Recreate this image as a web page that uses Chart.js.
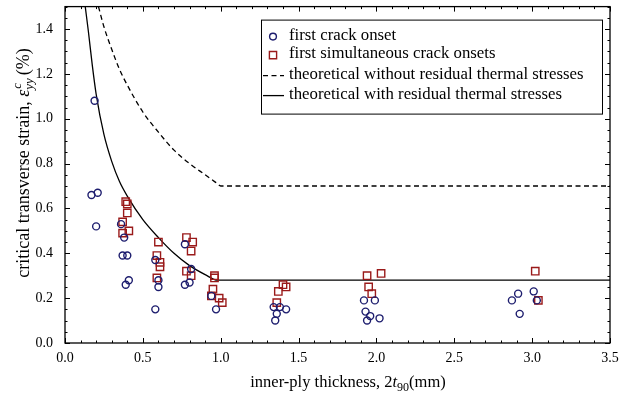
<!DOCTYPE html>
<html>
<head>
<meta charset="utf-8">
<script src="https://cdn.jsdelivr.net/npm/chart.js@4.4.1/dist/chart.umd.min.js"></script>
<style>
 html, body { margin: 0; padding: 0; background: #fff; }
 #wrap { width: 638px; height: 396px; }
</style>
</head>
<body>
<div id="wrap"><canvas id="strain-chart"></canvas></div>
<script>
// first crack onset (circles)
var onsetX = [0.17, 0.21, 0.19, 0.20,
 0.36, 0.38, 0.37, 0.40, 0.39, 0.41,
 0.58, 0.60, 0.60, 0.58,
 0.77, 0.81, 0.77, 0.80,
 0.94, 0.97,
 1.34, 1.38, 1.42, 1.36, 1.35,
 1.92, 1.99, 1.93, 1.94, 1.96, 2.02,
 2.91, 2.87, 2.92, 3.01, 3.03];
var onsetY = [0.66, 0.67, 1.08, 0.52,
 0.53, 0.47, 0.39, 0.39, 0.26, 0.28,
 0.37, 0.28, 0.25, 0.15,
 0.44, 0.33, 0.26, 0.27,
 0.21, 0.15,
 0.16, 0.16, 0.15, 0.13, 0.10,
 0.19, 0.19, 0.14, 0.10, 0.12, 0.11,
 0.22, 0.19, 0.13, 0.23, 0.19];

// first simultaneous crack onsets (squares)
var simulX = [0.39, 0.40, 0.40, 0.37, 0.37, 0.41,
 0.60, 0.59, 0.61, 0.61, 0.59,
 0.78, 0.82, 0.81, 0.78, 0.81,
 0.96, 0.96, 0.95, 0.94, 0.99, 1.01,
 1.40, 1.42, 1.37, 1.36,
 1.94, 2.03, 1.95, 1.97,
 3.02, 3.04];
var simulY = [0.63, 0.62, 0.58, 0.54, 0.49, 0.50,
 0.45, 0.39, 0.36, 0.34, 0.29,
 0.47, 0.45, 0.41, 0.32, 0.30,
 0.30, 0.29, 0.24, 0.21, 0.20, 0.18,
 0.26, 0.25, 0.23, 0.18,
 0.30, 0.31, 0.25, 0.22,
 0.32, 0.19];

// theoretical curves
var noThermalX = [0.215, 0.25, 0.30, 0.35, 0.40, 0.50, 0.60, 0.70, 0.80, 0.90, 0.97, 1.00, 3.50];
var noThermalY = [1.50, 1.41, 1.31, 1.22, 1.15, 1.03, 0.94, 0.86, 0.80, 0.75, 0.715, 0.70, 0.70];
var thermalX = [0.13, 0.15, 0.175, 0.20, 0.25, 0.30, 0.35, 0.40, 0.50, 0.60, 0.70, 0.80, 0.90, 0.98, 3.50];
var thermalY = [1.50, 1.39, 1.24, 1.11, 0.93, 0.81, 0.72, 0.655, 0.55, 0.47, 0.40, 0.345, 0.305, 0.28, 0.28];

var xTicks = [0.0, 0.5, 1.0, 1.5, 2.0, 2.5, 3.0, 3.5];
var yTicks = [0.0, 0.2, 0.4, 0.6, 0.8, 1.0, 1.2, 1.4];

var serif = "'Liberation Serif', 'DejaVu Serif', serif";
var navy = "#1d1d6e";
var darkRed = "#9a1a1a";

function toPoints(xs, ys) {
 return xs.map(function (x, i) {
  return { x: x, y: ys[i] };
 });
}

// frame with inward ticks on all four sides, drawn from the scales
var frameTicks = {
 id: "frameTicks",
 afterDatasetsDraw: function (chart) {
  var ctx = chart.ctx;
  var a = chart.chartArea;
  var sx = chart.scales.x;
  var sy = chart.scales.y;
  ctx.save();
  ctx.strokeStyle = "#000";
  ctx.lineWidth = 1;
  ctx.beginPath();
  var i, v, px, len;
  for (i = 0; i <= 35; i++) {
   v = i / 10;
   len = i % 5 === 0 ? 5 : 2.5;
   px = Math.round(sx.getPixelForValue(v)) + 0.5;
   ctx.moveTo(px, a.bottom);
   ctx.lineTo(px, a.bottom - len);
   ctx.moveTo(px, a.top);
   ctx.lineTo(px, a.top + len);
  }
  for (i = 0; i <= 30; i++) {
   v = i / 20;
   len = i % 4 === 0 ? 5 : 2.5;
   px = Math.round(sy.getPixelForValue(v)) + 0.5;
   ctx.moveTo(a.left, px);
   ctx.lineTo(a.left + len, px);
   ctx.moveTo(a.right, px);
   ctx.lineTo(a.right - len, px);
  }
  ctx.stroke();
  ctx.lineWidth = 1.3;
  ctx.strokeRect(a.left, a.top, a.right - a.left, a.bottom - a.top);
  ctx.restore();
 },
};

// legend box inside the plot, top right
var boxLegend = {
 id: "boxLegend",
 afterDraw: function (chart) {
  var ctx = chart.ctx;
  var a = chart.chartArea;
  var left = a.right - 349, top = a.top + 13, w = 341, h = 94;
  ctx.save();
  ctx.fillStyle = "#fff";
  ctx.fillRect(left, top, w, h);
  ctx.strokeStyle = "#000";
  ctx.lineWidth = 1;
  ctx.strokeRect(left + 0.5, top + 0.5, w, h);

  var mx = left + 12, tx = left + 28;
  var rows = [top + 17, top + 35.5, top + 56, top + 76];
  ctx.font = "16.8px " + serif;
  ctx.textBaseline = "middle";
  ctx.fillStyle = "#000";

  chart.data.datasets.forEach(function (ds, i) {
   var y = rows[i];
   ctx.beginPath();
   if (i === 0) {
    ctx.strokeStyle = navy;
    ctx.lineWidth = 1.4;
    ctx.arc(mx, y, 3.4, 0, Math.PI * 2);
    ctx.stroke();
   } else if (i === 1) {
    ctx.strokeStyle = darkRed;
    ctx.lineWidth = 1.4;
    ctx.rect(mx - 3.6, y - 3.6, 7.2, 7.2);
    ctx.stroke();
   } else {
    ctx.strokeStyle = "#000";
    ctx.lineWidth = 1.3;
    ctx.setLineDash(ds.borderDash || []);
    ctx.moveTo(mx - 10, y);
    ctx.lineTo(mx + 11, y);
    ctx.stroke();
    ctx.setLineDash([]);
   }
   ctx.fillText(ds.label, tx, y - 1);
  });
  ctx.restore();
 },
};

// axis titles with italic symbols and sub/superscripts
var axisTitles = {
 id: "axisTitles",
 afterDraw: function (chart) {
  var ctx = chart.ctx;
  var big = "16.5px " + serif;
  var ital = "italic 16.5px " + serif;
  var smallUp = "12px " + serif;
  ctx.save();
  ctx.fillStyle = "#000";
  ctx.textBaseline = "alphabetic";

  // x title: inner-ply thickness, 2t90(mm)
  var parts = [
   { t: "inner-ply thickness, 2", f: big, dy: 0 },
   { t: "t", f: ital, dy: 0 },
   { t: "90", f: smallUp, dy: 3.5 },
   { t: "(mm)", f: big, dy: 0 },
  ];
  var total = 0;
  parts.forEach(function (p) {
   ctx.font = p.f;
   p.w = ctx.measureText(p.t).width;
   total += p.w;
  });
  var x = 348 - total / 2;
  var base = 387;
  parts.forEach(function (p) {
   ctx.font = p.f;
   ctx.fillText(p.t, x, base + p.dy);
   x += p.w;
  });

  // y title, rotated: critical transverse strain, eps^c_yy (%)
  var yBig = "18px " + serif;
  var yItal = "italic 18px " + serif;
  var ySmall = "italic 13px " + serif;
  ctx.translate(29, 163);
  ctx.rotate(-Math.PI / 2);
  ctx.font = yBig;
  var t1 = "critical transverse strain, ";
  var w1 = ctx.measureText(t1).width;
  ctx.font = yItal;
  var we = ctx.measureText("\u03b5").width;
  ctx.font = ySmall;
  var wyy = ctx.measureText("yy").width;
  ctx.font = yBig;
  var w3 = ctx.measureText("(%)").width;
  var tot = w1 + we + wyy + 3 + w3;
  var sx = -tot / 2;
  ctx.font = yBig;
  ctx.fillText(t1, sx, 0);
  sx += w1;
  ctx.font = yItal;
  ctx.fillText("\u03b5", sx, 0);
  sx += we;
  ctx.font = ySmall;
  ctx.fillText("c", sx + 1, -8);
  ctx.fillText("yy", sx, 4);
  sx += wyy + 3;
  ctx.font = yBig;
  ctx.fillText("(%)", sx, 0);
  ctx.restore();
 },
};

var ctx = document.getElementById("strain-chart");

new Chart(ctx, {
 type: "scatter",
 data: {
  datasets: [
   {
    label: "first crack onset",
    data: toPoints(onsetX, onsetY),
    pointStyle: "circle",
    pointRadius: 3.5,
    pointBorderWidth: 1.4,
    borderColor: navy,
    backgroundColor: "rgba(0,0,0,0)",
    showLine: false,
   },
   {
    label: "first simultaneous crack onsets",
    data: toPoints(simulX, simulY),
    pointStyle: "rect",
    pointRadius: 5.2,
    pointBorderWidth: 1.4,
    borderColor: darkRed,
    backgroundColor: "rgba(0,0,0,0)",
    showLine: false,
   },
   {
    label: "theoretical without residual thermal stresses",
    data: toPoints(noThermalX, noThermalY),
    showLine: true,
    pointRadius: 0,
    borderColor: "#000",
    borderWidth: 1.3,
    borderDash: [5, 3.5],
    cubicInterpolationMode: "monotone",
    fill: false,
   },
   {
    label: "theoretical with residual thermal stresses",
    data: toPoints(thermalX, thermalY),
    showLine: true,
    pointRadius: 0,
    borderColor: "#000",
    borderWidth: 1.3,
    cubicInterpolationMode: "monotone",
    fill: false,
   },
  ],
 },
 options: {
  responsive: true,
  maintainAspectRatio: false,
  animation: false,
  clip: true,
  layout: {
   padding: { left: 0, right: 28, top: 3, bottom: 0 },
  },
  plugins: {
   legend: { display: false },
   tooltip: { enabled: false },
  },
  scales: {
   x: {
    type: "linear",
    min: 0,
    max: 3.5,
    grid: { display: false, drawTicks: false },
    border: { display: false },
    afterBuildTicks: function (scale) {
     scale.ticks = xTicks.map(function (v) {
      return { value: v };
     });
    },
    afterFit: function (scale) {
     scale.height = 53;
     scale.paddingLeft = 0;
     scale.paddingRight = 0;
    },
    ticks: {
     padding: 7,
     color: "#000",
     maxRotation: 0,
     font: { family: serif, size: 14 },
     callback: function (v) {
      return Number(v).toFixed(1);
     },
    },
   },
   y: {
    type: "linear",
    min: 0,
    max: 1.5,
    grid: { display: false, drawTicks: false },
    border: { display: false },
    afterBuildTicks: function (scale) {
     scale.ticks = yTicks.map(function (v) {
      return { value: v };
     });
    },
    afterFit: function (scale) {
     scale.width = 65;
     scale.paddingTop = 0;
     scale.paddingBottom = 0;
    },
    ticks: {
     padding: 12,
     color: "#000",
     font: { family: serif, size: 14 },
     callback: function (v) {
      return Number(v).toFixed(1);
     },
    },
   },
  },
 },
 plugins: [frameTicks, boxLegend, axisTitles],
});
</script>
</body>
</html>
